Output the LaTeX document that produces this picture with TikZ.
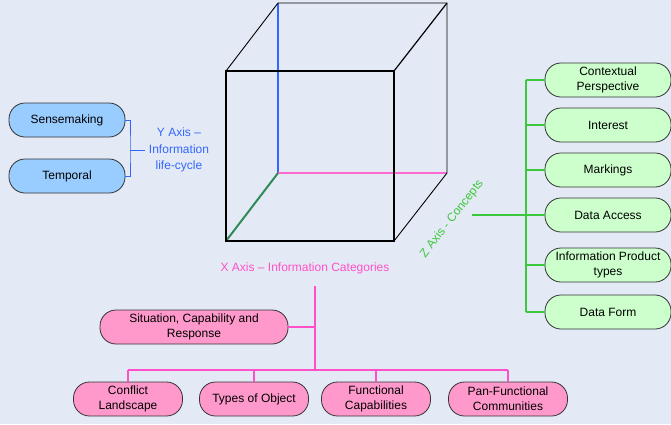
\documentclass[tikz,border=0pt]{standalone}
\usepackage{fontspec}
\setmainfont{Liberation Sans}
\definecolor{bgcol}{RGB}{228,234,245}
\definecolor{yblue}{RGB}{51,102,255}
\definecolor{xpink}{RGB}{255,80,200}
\definecolor{zgreen}{RGB}{60,200,60}
\definecolor{edgegreen}{RGB}{46,139,87}
\definecolor{bluefill}{RGB}{153,204,255}
\definecolor{pinkfill}{RGB}{255,153,204}
\definecolor{greenfill}{RGB}{204,255,204}
\begin{document}
\begin{tikzpicture}[x=1pt,y=-1pt,
	box/.style={draw=black!80, line width=0.8pt, rectangle, rounded corners=16pt, minimum height=34pt, align=center, inner sep=1pt, font=\fontsize{12}{15}\selectfont},
	ybox/.style={box, fill=bluefill, minimum width=116pt},
	zbox/.style={box, fill=greenfill, minimum width=126pt},
	xbox/.style={box, fill=pinkfill, minimum width=109pt},
	axlabel/.style={font=\fontsize{12}{16.5}\selectfont, align=center},
	cube/.style={line width=1.2pt, black},
	link/.style={line width=1.3pt}]
	\fill[bgcol] (0,0) rectangle (671,424);
	\useasboundingbox (0,0) rectangle (671,424);

	% cube
	\coordinate (f1) at (226,71);
	\coordinate (f2) at (394,71);
	\coordinate (f3) at (394,241);
	\coordinate (f4) at (226,241);
	\coordinate (b1) at (278,3);
	\coordinate (b2) at (447,3);
	\coordinate (b3) at (447,173);
	\coordinate (b4) at (278,173);
	\draw[line width=2pt, yblue] (b1) -- (b4);
	\draw[line width=2pt, xpink!85] (b4) -- (b3);
	\draw[line width=2pt, edgegreen] (b4) -- (f4);
	\draw[cube] (f1) -- (f2) -- (f3) -- (f4) -- cycle;
	\draw[line width=0.9pt] (f1) -- (b1) -- (b2) -- (b3);
	\draw[cube] (b2) -- (f2);
	\draw[line width=0.9pt] (b3) -- (f3);

	% Y axis
	\node[ybox] (sm) at (67,120) {Sensemaking};
	\node[ybox] (tp) at (67,176) {Temporal};
	\node[axlabel, text=yblue] (ylab) at (179,150) {Y Axis --\\Information\\life-cycle};
	\coordinate (yj) at (130,150);
	\draw[link, yblue, line width=1pt] (sm.east) -| (yj) |- (tp.east);
	\draw[link, yblue, line width=1pt] (yj) -- (yj -| ylab.west);

	% Z axis
	\node[zbox] (cp) at (608,80) {Contextual\\Perspective};
	\node[zbox] (in) at (608,125) {Interest};
	\node[zbox] (mk) at (608,170) {Markings};
	\node[zbox] (da) at (608,215) {Data Access};
	\node[zbox] (ip) at (608,265) {Information Product\\types};
	\node[zbox] (df) at (608,312) {Data Form};
	\node[axlabel, text=zgreen, rotate=52] (zlab) at (452,219) {Z Axis - Concepts};
	\coordinate (zs) at (472,215);
	\coordinate (zj) at (526,215);
	\draw[link, zgreen] (zj |- cp.west) -- (zj |- df.west);
	\foreach \n in {cp,in,mk,ip,df}
		\draw[link, zgreen] (\n.west) -- (\n.west -| zj);
	\draw[link, zgreen] (zs) -- (zs -| da.west);

	% X axis
	\node[axlabel, text=xpink] (xlab) at (305,268) {X Axis -- Information Categories};
	\node[xbox, minimum width=188pt] (sc) at (194,327) {Situation, Capability and\\Response};
	\node[xbox] (cl) at (128,399) {Conflict\\Landscape};
	\node[xbox] (to) at (254,399) {Types of Object};
	\node[xbox] (fc) at (376,399) {Functional\\Capabilities};
	\node[xbox, minimum width=119pt] (pf) at (508,399) {Pan-Functional\\Communities};
	\coordinate (xs) at (315,286);
	\coordinate (xj) at (315,370);
	\draw[link, xpink] (xs) -- (xj);
	\draw[link, xpink] (sc.east) -- (sc.east -| xs);
	\draw[link, xpink] (cl.north |- xj) -- (pf.north |- xj);
	\foreach \n in {cl,to,fc,pf}
		\draw[link, xpink] (\n.north) -- (\n.north |- xj);
\end{tikzpicture}
\end{document}
